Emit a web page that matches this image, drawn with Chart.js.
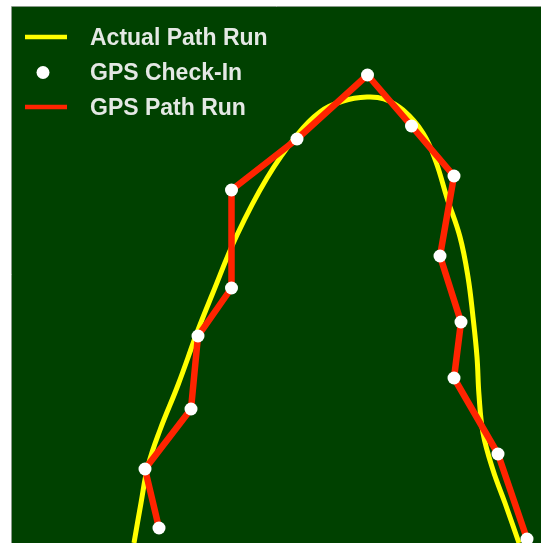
<!DOCTYPE html>
<html>
<head>
<meta charset="utf-8">
<script src="https://cdn.jsdelivr.net/npm/chart.js@4"></script>
<style>
  html, body { margin: 0; padding: 0; background: #ffffff; }
  canvas { display: block; }
</style>
</head>
<body>
<canvas id="runChart" width="541" height="543"></canvas>
<script>
// track coordinates (map units, origin bottom-left of the field)
const actualX = [122, 129, 136, 148, 166, 186, 200, 225, 255, 285, 308, 331, 355, 372, 391, 411, 424, 435, 448, 456, 461, 465, 467, 471, 481, 493, 507];
const actualY = [0, 40, 77, 113, 158, 213, 248, 308, 365, 408, 431, 442, 446, 444, 433, 410, 381, 345, 306, 266, 226, 186, 148, 110, 73, 40, 0];

const gpsX = [147, 133, 179, 186, 219.5, 219.5, 285, 355.5, 399.5, 442, 428, 449, 442, 486, 515];
const gpsY = [15, 74, 134, 207, 255, 353, 404, 468, 417, 367, 287, 221, 165, 89, 4];

const seriesLabels = ["Actual Path Run", "GPS Check-In", "GPS Path Run"];

const toPoints = (xs, ys) => xs.map((x, i) => ({ x: x, y: ys[i] }));

// green field behind the tracks
const fieldBackground = {
    id: "fieldBackground",
    beforeDraw(chart) {
        const { ctx, chartArea } = chart;
        ctx.save();
        ctx.fillStyle = "#004100";
        ctx.fillRect(chartArea.left, chartArea.top, chartArea.right - chartArea.left, chartArea.bottom - chartArea.top);
        ctx.strokeStyle = "#8a9a8a";
        ctx.lineWidth = 1;
        ctx.beginPath();
        ctx.moveTo(chartArea.left - 0.5, chartArea.bottom);
        ctx.lineTo(chartArea.left - 0.5, chartArea.top - 0.5);
        ctx.lineTo(chartArea.right, chartArea.top - 0.5);
        ctx.stroke();
        ctx.restore();
    }
};

// stacked legend in the top-left corner of the field
const cornerLegend = {
    id: "cornerLegend",
    afterDatasetsDraw(chart) {
        const { ctx, chartArea } = chart;
        const x0 = chartArea.left + 13;
        let y = chartArea.top + 30;
        ctx.save();
        chart.data.datasets.forEach(ds => {
            if (ds.showLine) {
                ctx.strokeStyle = ds.borderColor;
                ctx.lineWidth = 4.5;
                ctx.beginPath();
                ctx.moveTo(x0, y);
                ctx.lineTo(x0 + 42, y);
                ctx.stroke();
            } else {
                ctx.fillStyle = ds.pointBackgroundColor;
                ctx.beginPath();
                ctx.arc(x0 + 18, y + 0.5, 6.5, 0, Math.PI * 2);
                ctx.fill();
            }
            ctx.fillStyle = "#e4e8e4";
            ctx.font = "bold 23px 'Liberation Sans', Arial, sans-serif";
            ctx.textBaseline = "alphabetic";
            ctx.fillText(ds.label, x0 + 65, y + 7.5);
            y += 35;
        });
        ctx.restore();
    }
};

new Chart(document.getElementById("runChart"), {
    type: "scatter",
    data: {
        datasets: [{
            label: seriesLabels[0],
            data: toPoints(actualX, actualY),
            showLine: true,
            borderColor: "#ffff00",
            borderWidth: 5,
            tension: 0.4,
            pointRadius: 0,
            order: 2
        }, {
            label: seriesLabels[1],
            data: toPoints(gpsX, gpsY),
            showLine: false,
            pointBackgroundColor: "#ffffff",
            pointBorderWidth: 0,
            pointRadius: 6.5,
            order: 0
        }, {
            label: seriesLabels[2],
            data: toPoints(gpsX, gpsY),
            showLine: true,
            borderColor: "#ff2400",
            borderWidth: 6.5,
            borderJoinStyle: "round",
            tension: 0,
            pointRadius: 0,
            order: 1
        }]
    },
    options: {
        responsive: false,
        animation: false,
        devicePixelRatio: 1,
        layout: {
            autoPadding: false,
            padding: { left: 12, top: 7, right: 0, bottom: 0 }
        },
        plugins: {
            legend: { display: false },
            tooltip: { enabled: false }
        },
        scales: {
            x: { type: "linear", min: 0, max: 529, display: false },
            y: { type: "linear", min: 0, max: 536, display: false }
        }
    },
    plugins: [fieldBackground, cornerLegend]
});
</script>
</body>
</html>
